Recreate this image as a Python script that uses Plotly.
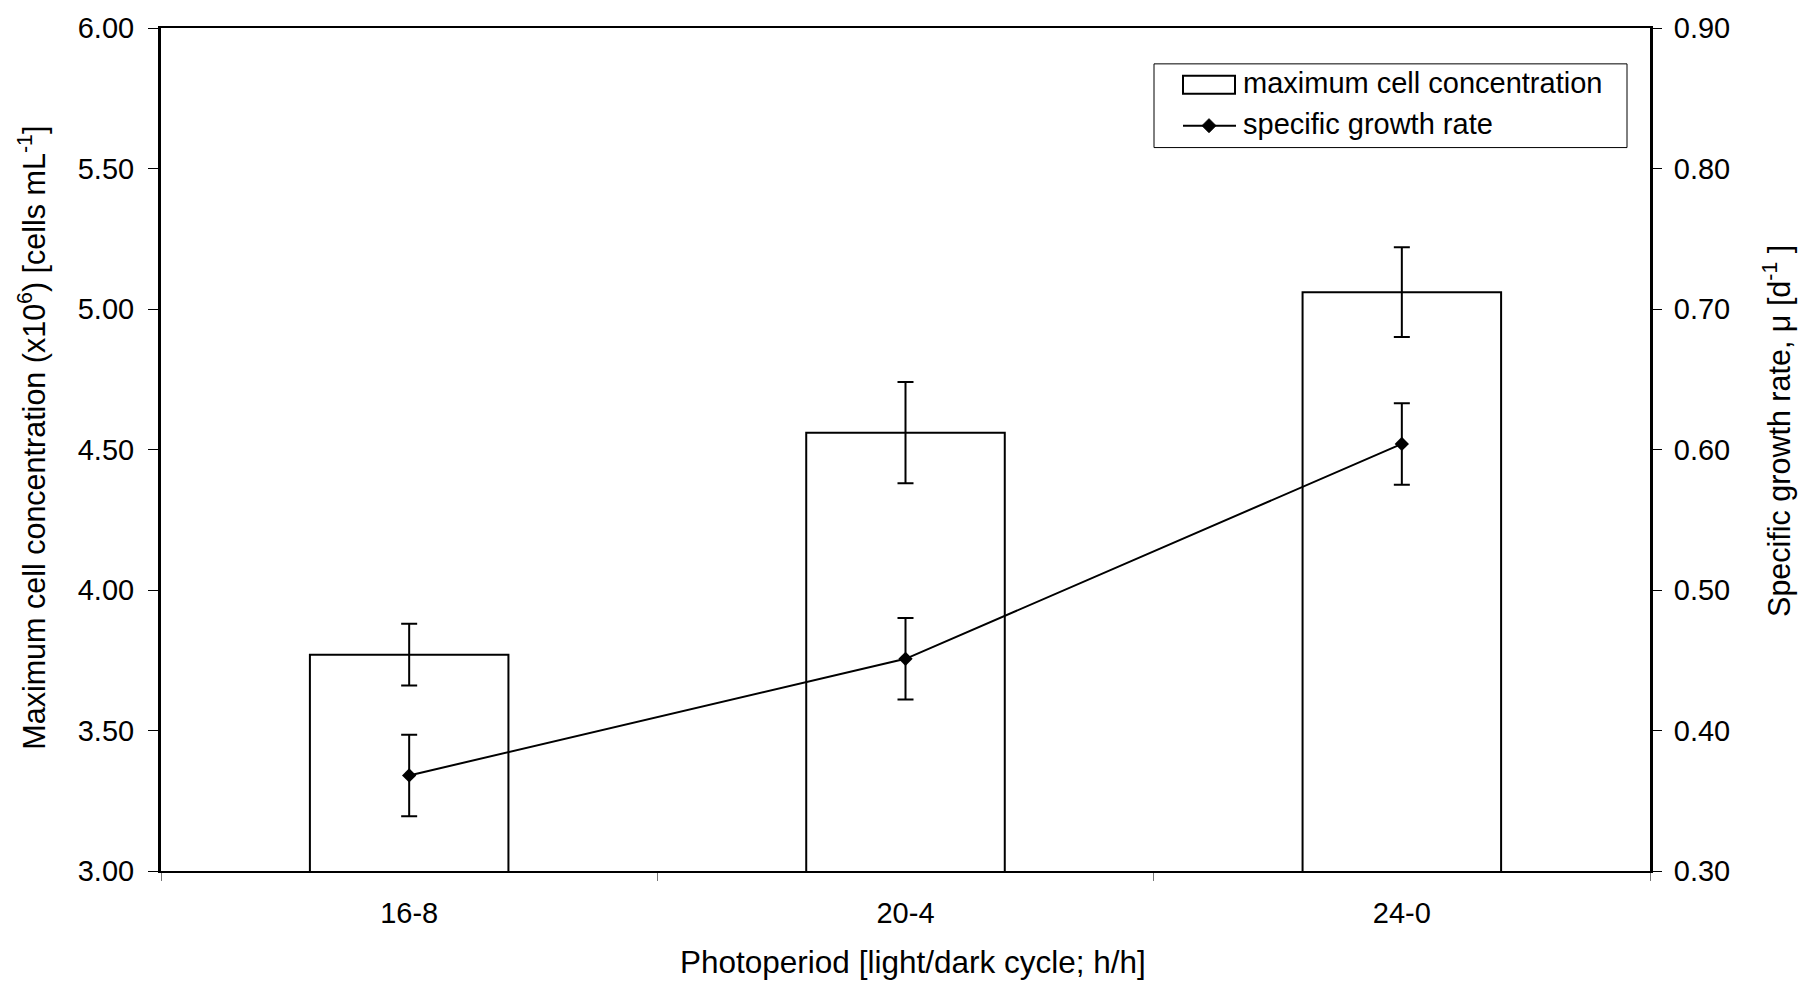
import plotly.graph_objects as go

# Photoperiod treatments (light/dark hours)
photoperiods = ["16-8", "20-4", "24-0"]

# Maximum cell concentration (x10^6 cells/mL) with error
max_cell_conc = [3.77, 4.56, 5.06]
max_cell_err = [0.11, 0.18, 0.16]

# Specific growth rate (1/d) with error
growth_rate = [0.368, 0.451, 0.604]
growth_err = [0.029, 0.029, 0.029]

FONT = "Liberation Sans, Arial, sans-serif"
FS = 29

W, H = 1800, 981
M_L, M_R, M_T, M_B = 161, 150, 25, 110
PW, PH = W - M_L - M_R, H - M_T - M_B


def px(x):
    """Page x pixel -> paper fraction."""
    return (x - M_L) / PW


def py(y):
    """Page y pixel (from top) -> paper fraction."""
    return (H - M_B - y) / PH


fig = go.Figure()

fig.add_trace(go.Bar(
    x=photoperiods, y=max_cell_conc,
    name="maximum cell concentration",
    width=0.4,
    marker=dict(color="rgba(255,255,255,0)", line=dict(color="black", width=2)),
    error_y=dict(type="data", array=max_cell_err, color="black", thickness=2, width=8),
    yaxis="y",
))

fig.add_trace(go.Scatter(
    x=photoperiods, y=growth_rate,
    name="specific growth rate",
    mode="lines+markers",
    line=dict(color="black", width=2),
    marker=dict(symbol="diamond", size=11, color="black"),
    error_y=dict(type="data", array=growth_err, color="black", thickness=2, width=8),
    yaxis="y2",
))

# Boxed key in the upper right of the plot
legend_shapes = [
    dict(type="rect", xref="paper", yref="paper",
         x0=px(1154), x1=px(1627), y0=py(145), y1=py(61),
         line=dict(color="black", width=1), fillcolor="white", layer="above"),
    dict(type="rect", xref="paper", yref="paper",
         x0=px(1183), x1=px(1235), y0=py(91), y1=py(73),
         line=dict(color="black", width=2), fillcolor="white", layer="above"),
    dict(type="line", xref="paper", yref="paper",
         x0=px(1183), x1=px(1236), y0=py(123), y1=py(123),
         line=dict(color="black", width=2), layer="above"),
    dict(type="path", xref="paper", yref="paper",
         xsizemode="pixel", ysizemode="pixel",
         xanchor=px(1209), yanchor=py(123),
         path="M -7 0 L 0 7 L 7 0 L 0 -7 Z",
         line=dict(color="black", width=1), fillcolor="black", layer="above"),
]

legend_texts = [
    dict(text="maximum cell concentration", xref="paper", yref="paper",
         x=px(1241), y=py(80), xanchor="left", yanchor="middle", showarrow=False,
         font=dict(family=FONT, size=FS)),
    dict(text="specific growth rate", xref="paper", yref="paper",
         x=px(1241), y=py(121), xanchor="left", yanchor="middle", showarrow=False,
         font=dict(family=FONT, size=FS)),
]

axis_titles = [
    dict(text="Maximum cell concentration (x10<sup>6</sup>) [cells mL<sup>-1</sup>]",
         xref="paper", yref="paper", x=0, y=0.514, xshift=-128,
         xanchor="center", yanchor="middle", textangle=-90, showarrow=False,
         font=dict(family=FONT, size=30.5)),
    dict(text="Specific growth rate, μ [d<sup>-1</sup> ]",
         xref="paper", yref="paper", x=1, y=0.522, xshift=128,
         xanchor="center", yanchor="middle", textangle=-90, showarrow=False,
         font=dict(family=FONT, size=30.5)),
    dict(text="Photoperiod [light/dark cycle; h/h]",
         xref="paper", yref="paper", x=0.505, y=0, yshift=-91,
         xanchor="center", yanchor="middle", showarrow=False,
         font=dict(family=FONT, size=31.5)),
]

fig.update_layout(
    width=W, height=H, autosize=False,
    margin=dict(l=M_L, r=M_R, t=M_T, b=M_B),
    plot_bgcolor="white", paper_bgcolor="white",
    font=dict(family=FONT, size=FS, color="black"),
    showlegend=False,
    xaxis=dict(
        type="category", range=[-0.5, 2.5],
        showline=True, linecolor="black", linewidth=2, mirror=True,
        ticks="outside", tickson="boundaries", ticklen=8, tickcolor="#777", tickwidth=1,
        showgrid=False, zeroline=False,
        tickfont=dict(family=FONT, size=FS), ticklabelstandoff=15,
    ),
    yaxis=dict(
        range=[3, 6], dtick=0.5, tickformat=".2f",
        showline=True, linecolor="black", linewidth=3,
        ticks="outside", ticklen=10, tickcolor="black", tickwidth=1,
        showgrid=False, zeroline=False,
        tickfont=dict(family=FONT, size=FS), ticklabelstandoff=8,
    ),
    yaxis2=dict(
        overlaying="y", side="right",
        range=[0.3, 0.9], dtick=0.1, tickformat=".2f",
        showline=True, linecolor="black", linewidth=3,
        ticks="outside", ticklen=9, tickcolor="black", tickwidth=1,
        showgrid=False, zeroline=False,
        tickfont=dict(family=FONT, size=FS), ticklabelstandoff=6,
    ),
    shapes=legend_shapes,
    annotations=axis_titles + legend_texts,
)

fig.write_html("out.html")
